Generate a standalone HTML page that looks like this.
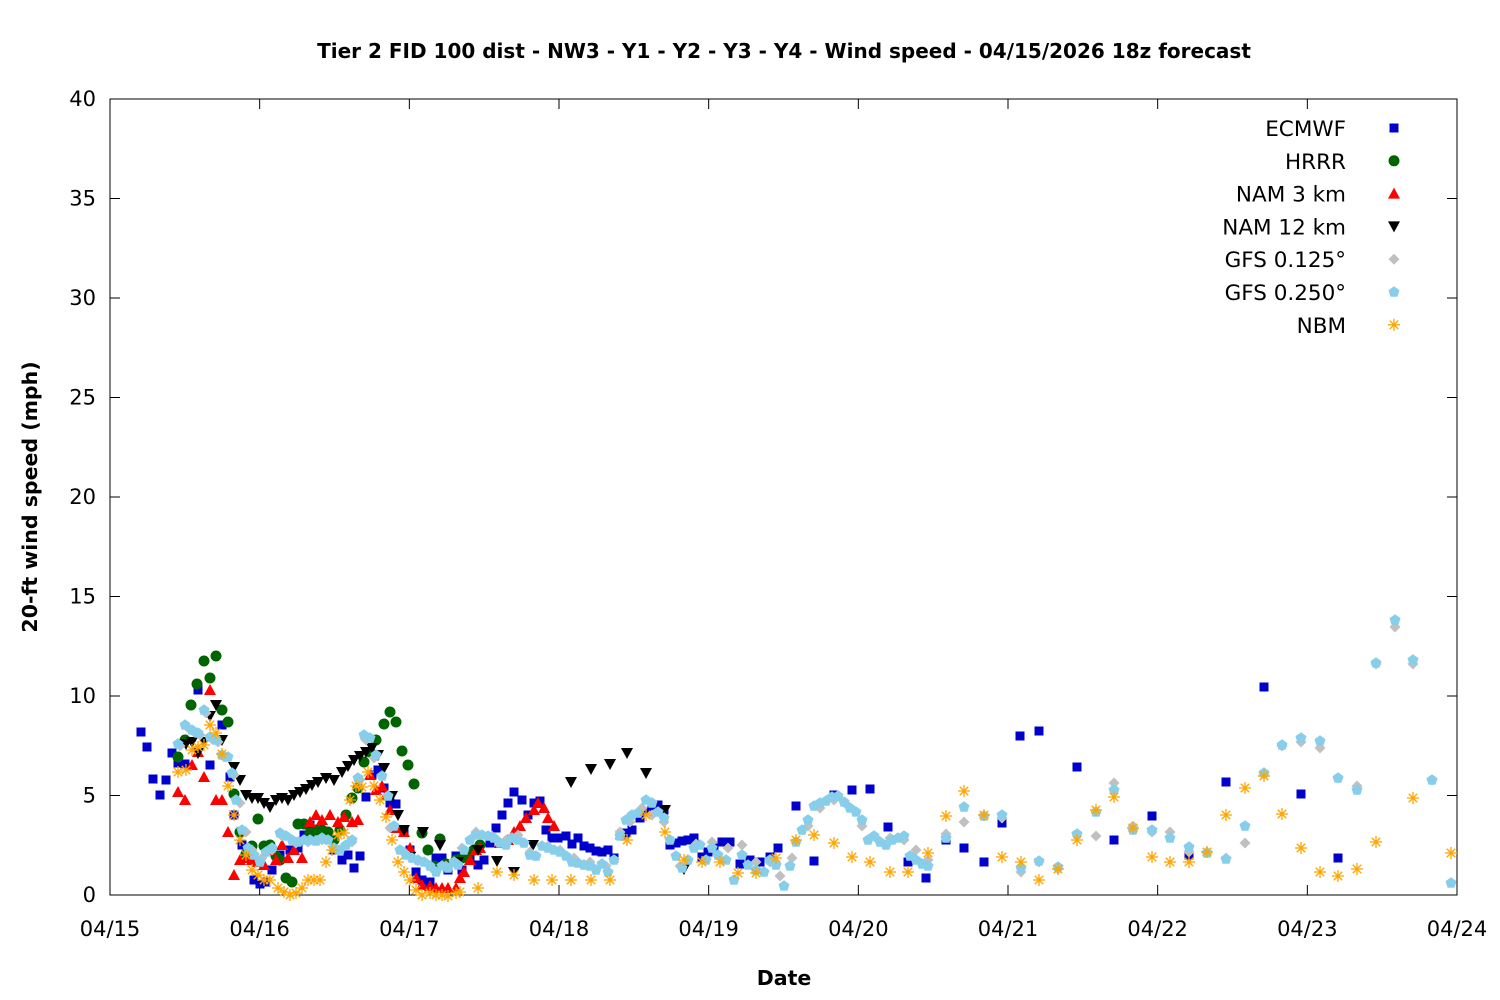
<!DOCTYPE html>
<html><head><meta charset="utf-8"><style>
body{margin:0;background:#fff}
svg{display:block;font-family:"DejaVu Sans","Liberation Sans",sans-serif}
</style></head><body>
<svg id="s" width="1500" height="1000" xmlns="http://www.w3.org/2000/svg">
<rect width="1500" height="1000" fill="#fff"/>
<text x="784" y="58" text-anchor="middle" font-size="20" font-weight="bold">Tier 2 FID 100 dist - NW3 - Y1 - Y2 - Y3 - Y4 - Wind speed - 04/15/2026 18z forecast</text>
<text x="784" y="985" text-anchor="middle" font-size="20.5" font-weight="bold">Date</text>
<text transform="translate(37,497) rotate(-90)" text-anchor="middle" font-size="20.5" font-weight="bold">20-ft wind speed (mph)</text>
<g id="ax"></g>
<g id="pts"></g>
<g id="leg" font-size="21.5" text-anchor="end"></g>
</svg>
<script>
const NS="http://www.w3.org/2000/svg";
function el(t,a,p){const e=document.createElementNS(NS,t);for(const k in a)e.setAttribute(k,a[k]);p.appendChild(e);return e;}
const ax=document.getElementById('ax');
const L=110,R=1457,T=99,B=895;
el('rect',{x:L,y:T,width:R-L,height:B-T,fill:'none',stroke:'#000','stroke-width':1},ax);
for(let i=0;i<=8;i++){const y=B-i*(B-T)/8;
 el('line',{x1:L,y1:y,x2:L+10,y2:y,stroke:'#000'},ax);el('line',{x1:R,y1:y,x2:R-10,y2:y,stroke:'#000'},ax);
 const t=el('text',{x:96,y:y+7,'text-anchor':'end','font-size':21},ax);t.textContent=i*5;}
for(let i=0;i<=9;i++){const x=L+i*(R-L)/9;
 el('line',{x1:x,y1:B,x2:x,y2:B-10,stroke:'#000'},ax);el('line',{x1:x,y1:T,x2:x,y2:T+10,stroke:'#000'},ax);
 const t=el('text',{x:x,y:936,'text-anchor':'middle','font-size':21},ax);t.textContent='04/'+(15+i);}
const P=document.getElementById('pts');
function mk(type,x,y,g){
 const c={sq:'#0000cc',ci:'#006400',up:'#ff0000',dn:'#000',di:'#c0c0c0',pe:'#87ceeb',st:'#ffa500'}[type];
 if(type=='sq')el('rect',{x:x-4.5,y:y-4.5,width:9,height:9,fill:c},g);
 else if(type=='ci')el('circle',{cx:x,cy:y,r:5.5,fill:c},g);
 else if(type=='up')el('polygon',{points:`${x},${y-6} ${x-6},${y+5} ${x+6},${y+5}`,fill:c},g);
 else if(type=='dn')el('polygon',{points:`${x},${y+6} ${x-6},${y-5} ${x+6},${y-5}`,fill:c},g);
 else if(type=='di')el('polygon',{points:`${x},${y-5.5} ${x+5.5},${y} ${x},${y+5.5} ${x-5.5},${y}`,fill:c},g);
 else if(type=='pe'){let p=[];for(let k=0;k<5;k++){const a=-Math.PI/2+k*2*Math.PI/5;p.push((x+5.8*Math.cos(a))+','+(y+5.8*Math.sin(a)));}el('polygon',{points:p.join(' '),fill:c},g);}
 else{for(let k=0;k<4;k++){const a=k*Math.PI/4;el('line',{x1:x-6*Math.cos(a),y1:y-6*Math.sin(a),x2:x+6*Math.cos(a),y2:y+6*Math.sin(a),stroke:c,'stroke-width':1.3},g);}}
}
function S(s){const a=s.trim().split(/\s*;\s*/);return a.map(p=>p.split(',').map(Number));}
const D={
sq:S("141,732;147,747;153,779;160,795;166,780;172,753;178,763;185,764;198,690;210,765;222,725;230,777;234,815;242,845;248,855;254,880;260,884;266,882;272,870;280,855;290,850;298,848;304,835;310,825;318,830;326,835;334,850;342,860;348,855;354,868;360,856;366,797;372,775;378,770;384,788;390,803;396,804;404,830;410,850;416,872;422,880;430,882;436,858;442,858;448,870;456,856;462,870;470,860;478,865;484,860;490,843;496,828;502,815;508,803;514,792;522,800;528,815;534,803;540,801;546,830;552,838;558,838;566,836;572,844;578,838;584,846;590,848;596,851;602,852;608,850;614,858;620,835;626,833;632,830;640,818;646,812;652,810;658,805;664,810;670,845;676,843;682,841;688,840;694,838;702,857;708,852;714,848;722,842;730,842;740,864;750,860;760,862;770,857;778,848;796,806;814,861;834,795;852,790;870,789;888,827;908,862;926,878;946,840;964,848;984,862;1002,823;1020,736;1039,731;1077,767;1114,840;1152,816;1189,855;1226,782;1264,687;1301,794;1338,858"),
ci:S("178,757;185,740;191,705;197,684;204,661;210,678;216,656;222,710;228,722;234,794;240,832;246,854;252,846;258,819;264,846;270,845;276,856;280,860;286,878;292,882;298,824;304,824;310,833;316,830;322,830;328,832;334,840;340,830;346,815;352,798;358,788;364,762;370,752;376,740;384,724;390,712;396,722;402,751;408,765;414,784;422,833;428,850;434,866;440,839;446,864;456,860;462,858;468,855;474,850;480,845"),
up:S("178,792;185,800;192,765;198,752;204,777;210,690;216,800;222,800;228,832;234,875;240,860;246,858;252,860;258,862;264,865;270,850;276,860;282,845;288,858;294,850;302,858;310,822;316,815;322,820;330,815;338,822;344,817;352,822;358,820;370,775;376,790;382,786;386,795;390,810;396,828;404,832;410,848;416,878;422,885;430,886;436,888;442,888;448,888;456,888;460,878;464,872;470,860;476,850;480,848;500,843;508,840;514,832;520,826;526,818;534,810;538,803;544,808;548,818;554,826"),
dn:S("186,744;192,742;198,753;204,742;210,716;216,705;222,740;234,767;240,780;246,795;252,798;258,798;264,803;270,807;276,800;282,798;288,800;294,795;300,792;306,789;312,785;318,782;326,778;334,780;342,772;348,766;354,760;360,756;366,752;372,748;378,755;384,768;392,796;398,815;404,830;410,857;423,832;440,845;458,862;478,850;497,861;514,872;533,845;571,782;591,769;610,764;627,753;646,773;665,810;684,869"),
di:S("180,746;187,727;194,732;200,735;206,713;212,739;218,742;224,757;234,775;240,803;246,832;252,850;262,858;272,850;282,836;296,843;308,842;322,840;338,850;352,842;360,780;366,740;374,758;390,828;404,852;418,861;432,868;446,866;462,848;476,832;492,836;506,840;518,835;530,852;548,846;560,850;574,858;590,862;606,866;620,832;630,822;642,808;652,815;664,822;680,866;696,844;712,842;728,848;742,845;756,862;770,862;780,876;792,858;808,826;820,808;834,800;848,806;862,826;876,838;890,838;904,840;916,850;928,860;946,834;964,822;984,816;1002,818;1021,872;1039,862;1058,869;1077,834;1096,836;1114,783;1133,826;1152,832;1170,832;1189,852;1207,852;1226,858;1245,843;1264,774;1282,746;1301,742;1320,748;1338,778;1357,786;1376,664;1395,627;1413,664;1432,780"),
pe:S("178,744;185,725;192,730;198,733;204,710;210,737;216,740;222,755;228,757;232,773;236,800;242,830;248,848;254,855;260,862;266,852;272,848;280,833;286,836;292,840;298,842;304,840;310,840;316,841;322,838;328,840;334,848;340,850;346,845;352,840;358,778;364,735;370,738;376,755;382,776;388,796;394,826;400,850;406,855;412,858;418,860;424,862;430,866;436,872;442,866;448,868;454,862;458,865;464,850;470,840;476,835;482,835;488,836;494,838;500,843;506,845;512,838;518,840;524,843;530,855;536,856;542,846;548,848;554,850;560,852;566,856;572,862;578,863;584,865;590,866;596,870;602,864;608,872;614,860;620,836;626,820;632,815;638,813;646,800;652,803;658,812;664,818;670,840;676,856;682,868;688,860;694,848;700,845;706,860;712,848;718,855;726,860;734,880;742,855;748,865;756,870;764,872;770,860;776,865;784,886;790,866;796,842;802,830;808,820;814,806;820,803;826,801;832,797;838,796;844,802;850,808;856,812;862,820;868,840;874,836;880,842;886,845;892,840;898,838;904,836;910,856;916,860;922,864;928,866;946,838;964,807;984,816;1002,815;1021,868;1039,861;1058,867;1077,834;1096,812;1114,790;1133,830;1152,830;1170,838;1189,847;1207,853;1226,859;1245,826;1264,773;1282,745;1301,738;1320,741;1338,778;1357,790;1376,663;1395,620;1413,660;1432,780;1451,883"),
st:S("178,772;186,770;192,750;198,747;204,745;210,725;216,733;222,754;228,786;234,815;240,840;246,855;252,870;258,875;264,880;270,880;278,888;284,892;290,895;296,893;302,888;308,880;314,880;320,880;326,862;332,850;338,835;344,833;350,800;356,786;362,787;368,772;374,786;380,800;386,817;392,840;398,862;404,872;410,880;416,890;422,895;430,893;436,895;442,895;448,896;456,893;460,892;478,888;497,872;514,875;534,880;552,880;571,880;591,880;610,880;627,840;646,815;665,832;684,860;702,862;720,862;738,873;756,873;776,858;796,840;814,835;834,843;852,857;870,862;890,872;908,872;928,853;946,816;964,791;984,815;1002,857;1021,862;1039,880;1058,869;1077,840;1096,810;1114,797;1133,828;1152,857;1170,862;1189,862;1207,852;1226,815;1245,788;1264,776;1282,814;1301,848;1320,872;1338,876;1357,869;1376,842;1413,798;1451,853")
};
for(const k of ['sq','ci','up','dn','di','pe','st'])for(const [x,y] of D[k])mk(k,x,y,P);
const G=document.getElementById('leg');
const names=[['ECMWF','sq'],['HRRR','ci'],['NAM 3 km','up'],['NAM 12 km','dn'],['GFS 0.125°','di'],['GFS 0.250°','pe'],['NBM','st']];
names.forEach(([n,t],i)=>{const y=128+i*32.8;const e=el('text',{x:1346,y:y+8},G);e.textContent=n;mk(t,1394,y,G);});
</script>
</body></html>
